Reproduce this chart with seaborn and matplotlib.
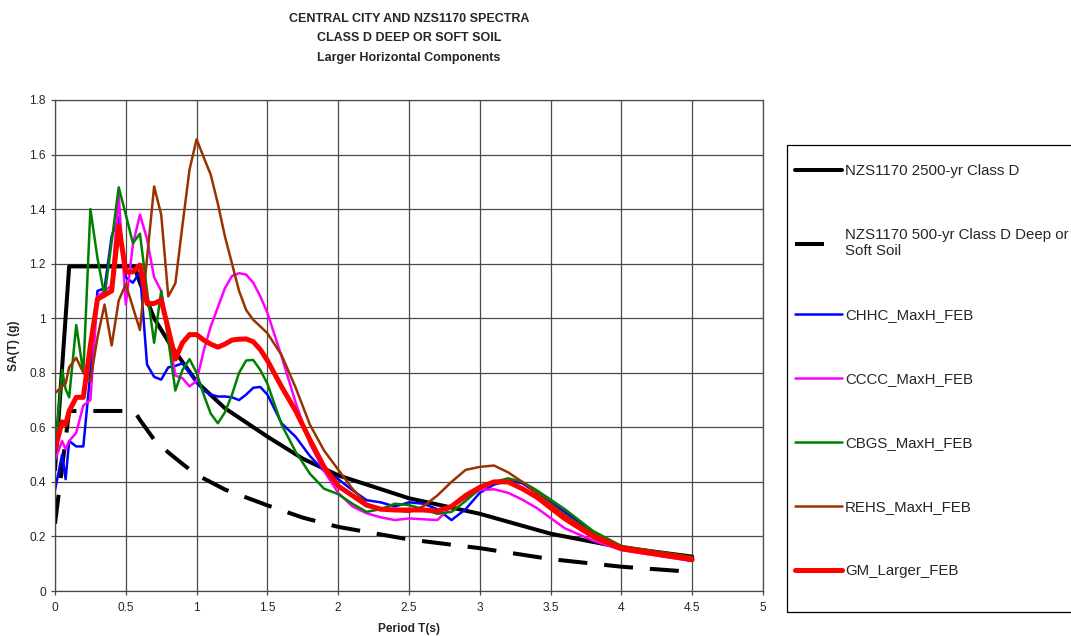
import matplotlib
matplotlib.use("Agg")
import matplotlib.pyplot as plt
from matplotlib.patches import Rectangle
import seaborn as sns

# NZS1170 design spectra
nzs_period = [0, 0.1, 0.2, 0.3, 0.4, 0.5, 0.56, 0.6, 0.7, 0.8, 0.9, 1.0, 1.2, 1.5,
              1.75, 2.0, 2.5, 3.0, 3.5, 4.0, 4.5]
nzs_2500 = [0.445, 1.19, 1.19, 1.19, 1.19, 1.19, 1.19, 1.13, 1.0, 0.915, 0.84, 0.767,
            0.67, 0.566, 0.485, 0.424, 0.34, 0.283, 0.21, 0.16, 0.126]
nzs_500 = [0.247, 0.66, 0.66, 0.66, 0.66, 0.66, 0.66, 0.627, 0.555, 0.508, 0.466, 0.426,
           0.372, 0.314, 0.269, 0.235, 0.189, 0.157, 0.117, 0.089, 0.07]

# recorded spectra
period = [0, 0.05, 0.075, 0.1, 0.15, 0.2, 0.25, 0.3, 0.35, 0.4, 0.45, 0.5, 0.55, 0.6,
          0.65, 0.7, 0.75, 0.8, 0.85, 0.9, 0.95, 1.0, 1.05, 1.1, 1.15, 1.2, 1.25, 1.3,
          1.35, 1.4, 1.45, 1.5, 1.6, 1.7, 1.8, 1.9, 2.0, 2.1, 2.2, 2.3, 2.4, 2.5, 2.6,
          2.7, 2.8, 2.9, 3.0, 3.1, 3.2, 3.3, 3.4, 3.6, 3.8, 4.0, 4.5]
chhc = [0.37, 0.50, 0.41, 0.55, 0.53, 0.53, 0.80, 1.10, 1.11, 1.30, 1.37, 1.15, 1.13, 1.17,
        0.83, 0.785, 0.775, 0.82, 0.825, 0.835, 0.80, 0.765, 0.735, 0.72, 0.713, 0.713,
        0.71, 0.70, 0.72, 0.745, 0.748, 0.72, 0.615, 0.565, 0.495, 0.44, 0.41, 0.37,
        0.333, 0.325, 0.31, 0.325, 0.32, 0.30, 0.26, 0.30, 0.36, 0.39, 0.405, 0.395,
        0.36, 0.29, 0.215, 0.16, 0.115]
cccc = [0.48, 0.55, 0.52, 0.55, 0.58, 0.68, 0.70, 1.08, 1.10, 1.12, 1.45, 1.05, 1.27, 1.38,
        1.29, 1.15, 1.10, 0.95, 0.79, 0.78, 0.75, 0.77, 0.88, 0.97, 1.04, 1.11, 1.155,
        1.165, 1.16, 1.13, 1.08, 1.02, 0.86, 0.69, 0.54, 0.44, 0.36, 0.31, 0.285, 0.27,
        0.26, 0.266, 0.263, 0.26, 0.31, 0.34, 0.37, 0.373, 0.36, 0.335, 0.305, 0.23,
        0.185, 0.15, 0.11]
cbgs = [0.50, 0.81, 0.74, 0.71, 0.975, 0.80, 1.40, 1.22, 1.08, 1.28, 1.48, 1.38, 1.275,
        1.31, 1.10, 0.91, 1.10, 0.92, 0.735, 0.81, 0.85, 0.80, 0.72, 0.65, 0.615, 0.655,
        0.72, 0.80, 0.845, 0.847, 0.81, 0.76, 0.61, 0.51, 0.43, 0.375, 0.355, 0.32, 0.29,
        0.30, 0.32, 0.315, 0.30, 0.283, 0.29, 0.33, 0.375, 0.40, 0.413, 0.40, 0.37, 0.30,
        0.22, 0.165, 0.11]
rehs = [0.725, 0.75, 0.76, 0.82, 0.855, 0.80, 0.77, 0.93, 1.05, 0.90, 1.065, 1.125, 1.04,
        0.957, 1.22, 1.483, 1.38, 1.08, 1.128, 1.34, 1.545, 1.656, 1.59, 1.526, 1.42, 1.30,
        1.20, 1.10, 1.03, 0.994, 0.97, 0.945, 0.865, 0.745, 0.61, 0.515, 0.445, 0.375,
        0.32, 0.30, 0.295, 0.29, 0.31, 0.35, 0.40, 0.444, 0.455, 0.46, 0.435, 0.40, 0.36,
        0.28, 0.21, 0.165, 0.125]
gm_larger = [0.52, 0.62, 0.61, 0.66, 0.71, 0.71, 0.90, 1.07, 1.085, 1.10, 1.34, 1.17, 1.17,
             1.195, 1.054, 1.054, 1.066, 0.96, 0.85, 0.91, 0.94, 0.94, 0.92, 0.905, 0.894,
             0.905, 0.92, 0.923, 0.924, 0.914, 0.885, 0.845, 0.749, 0.66, 0.555, 0.455,
             0.385, 0.35, 0.315, 0.30, 0.297, 0.297, 0.297, 0.293, 0.31, 0.35, 0.38, 0.40,
             0.40, 0.375, 0.345, 0.265, 0.20, 0.155, 0.115]

sns.set_style("white")
plt.rcParams["font.family"] = ["Liberation Sans", "DejaVu Sans"]

W, H = 1071, 636
fig = plt.figure(figsize=(W / 100, H / 100), dpi=100)
ax = fig.add_axes([55 / W, 45 / H, 708 / W, 491 / H])

sns.lineplot(x=nzs_period, y=nzs_2500, ax=ax, color="black", lw=2.9,
             label="NZS1170 2500-yr Class D")
sns.lineplot(x=nzs_period, y=nzs_500, ax=ax, color="black", lw=2.9,
             label="NZS1170 500-yr Class D Deep or\nSoft Soil")
ax.lines[-1].set_dashes((7.2, 4.2))
sns.lineplot(x=period, y=chhc, ax=ax, color="#0000ff", lw=1.8, label="CHHC_MaxH_FEB")
sns.lineplot(x=period, y=cccc, ax=ax, color="#ff00ff", lw=1.8, label="CCCC_MaxH_FEB")
sns.lineplot(x=period, y=cbgs, ax=ax, color="#008000", lw=1.8, label="CBGS_MaxH_FEB")
sns.lineplot(x=period, y=rehs, ax=ax, color="#993300", lw=1.8, label="REHS_MaxH_FEB")
sns.lineplot(x=period, y=gm_larger, ax=ax, color="#ff0000", lw=3.6, label="GM_Larger_FEB")

ax.set_xlim(0, 5)
ax.set_ylim(0, 1.8)
ax.set_xticks([0, 0.5, 1, 1.5, 2, 2.5, 3, 3.5, 4, 4.5, 5])
ax.set_xticklabels(["0", "0.5", "1", "1.5", "2", "2.5", "3", "3.5", "4", "4.5", "5"])
ax.set_yticks([0, 0.2, 0.4, 0.6, 0.8, 1.0, 1.2, 1.4, 1.6, 1.8])
ax.set_yticklabels(["0", "0.2", "0.4", "0.6", "0.8", "1", "1.2", "1.4", "1.6", "1.8"])
ax.grid(True, color="#4a4a4a", lw=0.9)
ax.set_axisbelow(True)
for s in ax.spines.values():
    s.set_color("#4a4a4a")
    s.set_linewidth(0.9)
ax.tick_params(axis="both", direction="out", length=3, width=0.9, color="#4a4a4a",
               labelsize=8.6, bottom=True, left=True)
ax.tick_params(axis="x", pad=5)
ax.tick_params(axis="y", pad=3.5)

ax.set_xlabel("Period T(s)", fontsize=8.6, fontweight="bold", labelpad=6.5)
ax.set_ylabel("SA(T) (g)", fontsize=8.6, fontweight="bold", labelpad=7)
ax.set_title("CENTRAL CITY AND NZS1170 SPECTRA\nCLASS D DEEP OR SOFT SOIL\n"
             "Larger Horizontal Components", fontsize=9, fontweight="bold",
             linespacing=1.85, pad=28)

# legend frame drawn separately so it can run past the right edge like the original
fig.patches.append(Rectangle((787 / W, (H - 612) / H), 300 / W, 467 / H,
                             transform=fig.transFigure, fill=False,
                             edgecolor="black", lw=0.9))
leg = ax.legend(loc="upper left", bbox_to_anchor=(787 / W, (H - 156) / H),
                bbox_transform=fig.transFigure, borderaxespad=0,
                fontsize=10.8, frameon=False, handlelength=3.13,
                handletextpad=0.2, labelspacing=3.33, borderpad=0.55)
leg.get_lines()[1].set_dashes((7.2, 20))

fig.savefig("out.png", dpi=100)
